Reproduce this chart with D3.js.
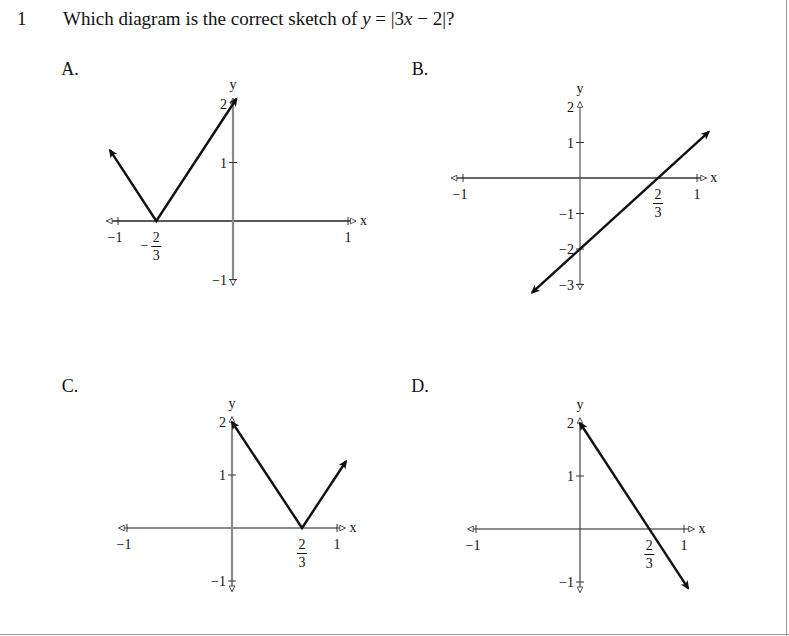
<!DOCTYPE html>
<html>
<head>
<meta charset="utf-8">
<script src="https://cdn.jsdelivr.net/npm/d3@7"></script>
<style>
  html, body { margin: 0; padding: 0; background: #fff; }
  svg text { font-family: "Liberation Serif", "DejaVu Serif", serif; fill: #111; }
</style>
</head>
<body>
<svg id="chart" width="789" height="636"></svg>
<script>
// ---------- DATA ----------
const questionNumber = "1";
const questionText = "Which diagram is the correct sketch of ";
const panelNames = ["A.", "B.", "C.", "D."];

// curve vertices (x values, y values) for each option
const curveAx = [-1.07, -0.667, 0.03];
const curveAy = [1.21, 0, 2.09];
const curveBx = [-0.41, 1.1];
const curveBy = [-3.23, 1.3];
const curveCx = [0, 0.667, 1.086];
const curveCy = [2, 0, 1.26];
const curveDx = [0, 1.04];
const curveDy = [2, -1.12];

// tick labels
const yTicksA = [2, 1, -1];
const yTicksB = [2, 1, -1, -2, -3];
const yTicksC = [2, 1, -1];
const yTicksD = [2, 1, -1];
const xTicks = [-1, 1];
const fracA = -2 / 3;
const fracBCD = 2 / 3;

// ---------- LAYOUT ----------
const layout = [
  { name: panelNames[0], lx: 70, ly: 68, ox: 233, oy: 221, ux: 115, uy: 58.5, xr: [-1.1, 1.07], yr: [-1.1, 2.1],
    xs: curveAx, ys: curveAy, yt: yTicksA, frac: fracA, yAxisColor: "#8a8a8a", yAxisW: 2.2, xAxisColor: "#222" },
  { name: panelNames[1], lx: 420, ly: 68, ox: 580, oy: 178, ux: 117, uy: 35.5, xr: [-1.1, 1.08], yr: [-3.15, 2.15],
    xs: curveBx, ys: curveBy, yt: yTicksB, frac: fracBCD, yAxisColor: "#555", yAxisW: 1.2, xAxisColor: "#333" },
  { name: panelNames[2], lx: 70, ly: 385, ox: 232, oy: 528, ux: 105, uy: 53, xr: [-1.08, 1.08], yr: [-1.2, 2.1],
    xs: curveCx, ys: curveCy, yt: yTicksC, frac: fracBCD, yAxisColor: "#8a8a8a", yAxisW: 2.2, xAxisColor: "#666" },
  { name: panelNames[3], lx: 420, ly: 385, ox: 580, oy: 529, ux: 104, uy: 53, xr: [-1.08, 1.1], yr: [-1.2, 2.1],
    xs: curveDx, ys: curveDy, yt: yTicksD, frac: fracBCD, yAxisColor: "#444", yAxisW: 1.2, xAxisColor: "#666" }
];

const svg = d3.select("#chart");

// frame lines at right / bottom
svg.append("line").attr("x1", 786.5).attr("x2", 786.5).attr("y1", 0).attr("y2", 636).attr("stroke", "#999").attr("stroke-width", 1);
svg.append("line").attr("x1", 0).attr("x2", 789).attr("y1", 634.5).attr("y2", 634.5).attr("stroke", "#999").attr("stroke-width", 1);

const defs = svg.append("defs");
defs.append("marker")
  .attr("id", "solidArrow").attr("viewBox", "0 0 10 10").attr("refX", 8).attr("refY", 5)
  .attr("markerWidth", 12).attr("markerHeight", 9).attr("markerUnits", "userSpaceOnUse")
  .attr("orient", "auto-start-reverse")
  .append("path").attr("d", "M0,0.5 L10,5 L0,9.5 L2.5,5 Z").attr("fill", "#111");
defs.append("marker")
  .attr("id", "openArrow").attr("viewBox", "0 0 10 10").attr("refX", 9).attr("refY", 5)
  .attr("markerWidth", 8).attr("markerHeight", 7).attr("markerUnits", "userSpaceOnUse")
  .attr("orient", "auto-start-reverse")
  .append("path").attr("d", "M1,1 L9,5 L1,9 Z").attr("fill", "#fff").attr("stroke", "#444").attr("stroke-width", 1.3);

// ---------- TITLE ----------
svg.append("text").attr("x", 17).attr("y", 25).attr("font-size", 19).text(questionNumber);
const title = svg.append("text").attr("x", 63).attr("y", 25).attr("font-size", 19);
title.append("tspan").text(questionText);
title.append("tspan").attr("font-style", "italic").text("y");
title.append("tspan").text(" = |3");
title.append("tspan").attr("font-style", "italic").text("x");
title.append("tspan").text(" − 2|?");

// ---------- PANELS ----------
layout.forEach(p => {
  const x = d3.scaleLinear().domain([0, 1]).range([p.ox, p.ox + p.ux]);
  const y = d3.scaleLinear().domain([0, 1]).range([p.oy, p.oy - p.uy]);
  const g = svg.append("g");

  g.append("text").attr("x", p.lx).attr("y", p.ly + 7).attr("font-size", 18).attr("text-anchor", "middle").text(p.name);

  // x axis
  g.append("line").attr("x1", x(p.xr[0])).attr("x2", x(p.xr[1])).attr("y1", y(0)).attr("y2", y(0))
    .attr("stroke", p.xAxisColor).attr("stroke-width", 1.3)
    .attr("marker-start", "url(#openArrow)").attr("marker-end", "url(#openArrow)");
  // y axis
  g.append("line").attr("x1", x(0)).attr("x2", x(0)).attr("y1", y(p.yr[0])).attr("y2", y(p.yr[1]))
    .attr("stroke", p.yAxisColor).attr("stroke-width", p.yAxisW)
    .attr("marker-start", "url(#openArrow)").attr("marker-end", "url(#openArrow)");

  // x ticks
  xTicks.forEach(t => {
    g.append("line").attr("x1", x(t)).attr("x2", x(t)).attr("y1", y(0) - 4).attr("y2", y(0) + 4)
      .attr("stroke", "#333").attr("stroke-width", 1);
    g.append("text").attr("x", x(t) - (t < 0 ? 3 : 0)).attr("y", y(0) + 21).attr("font-size", 14)
      .attr("text-anchor", "middle").text(t < 0 ? "−" + Math.abs(t) : String(t));
  });
  // x label
  g.append("text").attr("x", x(p.xr[1]) + 4).attr("y", y(0) + 4).attr("font-size", 14).text("x");

  // fraction label
  const fx = x(p.frac);
  const fg = g.append("g");
  fg.append("text").attr("x", fx).attr("y", y(0) + 21).attr("font-size", 14).attr("text-anchor", "middle").text("2");
  fg.append("line").attr("x1", fx - 5).attr("x2", fx + 5).attr("y1", y(0) + 25.5).attr("y2", y(0) + 25.5)
    .attr("stroke", "#111").attr("stroke-width", 1);
  fg.append("text").attr("x", fx).attr("y", y(0) + 39).attr("font-size", 14).attr("text-anchor", "middle").text("3");
  if (p.frac < 0) {
    fg.append("text").attr("x", fx - 8).attr("y", y(0) + 29).attr("font-size", 14).attr("text-anchor", "end").text("−");
  }

  // y ticks
  p.yt.forEach(t => {
    if (t !== 2) {
      g.append("line").attr("x1", x(0) - 4).attr("x2", x(0) + 4).attr("y1", y(t)).attr("y2", y(t))
        .attr("stroke", "#333").attr("stroke-width", 1);
    }
    g.append("text").attr("x", x(0) - 6).attr("y", y(t) + 5).attr("font-size", 14)
      .attr("text-anchor", "end").text(t < 0 ? "−" + Math.abs(t) : String(t));
  });
  // y label
  g.append("text").attr("x", x(0)).attr("y", y(p.yr[1]) - 9).attr("font-size", 14).attr("text-anchor", "middle").text("y");

  // curve
  const pts = p.xs.map((v, i) => [x(v), y(p.ys[i])]);
  g.append("path").attr("d", d3.line()(pts)).attr("fill", "none").attr("stroke", "#111").attr("stroke-width", 2.4)
    .attr("stroke-linejoin", "miter")
    .attr("marker-start", "url(#solidArrow)").attr("marker-end", "url(#solidArrow)");
});
</script>
</body>
</html>
